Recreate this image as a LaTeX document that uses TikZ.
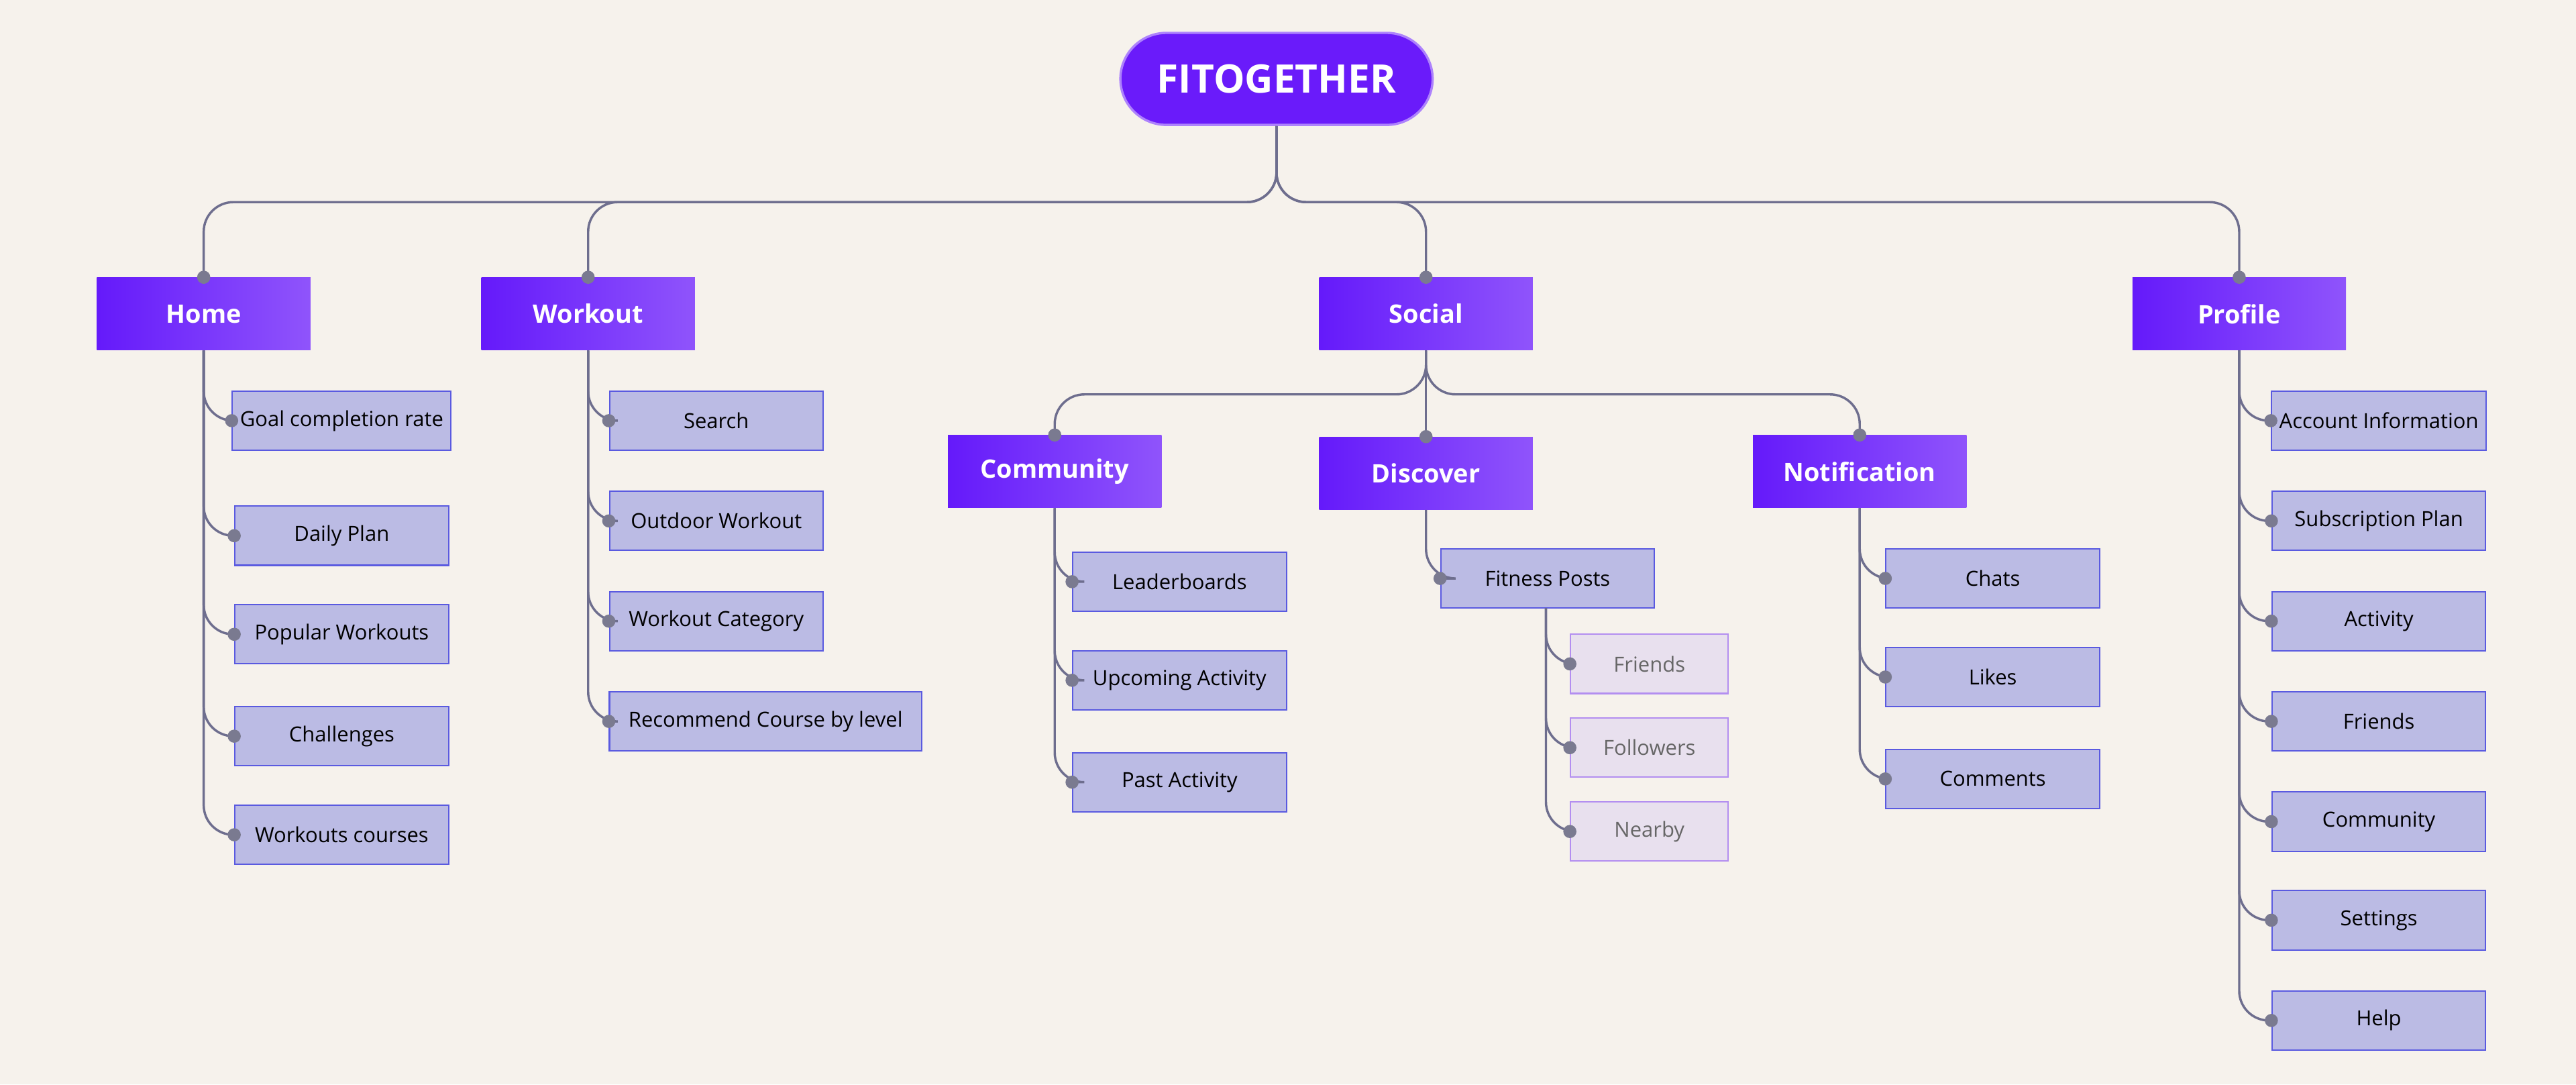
\documentclass[tikz,border=0pt]{standalone}
\usepackage{fontspec}
\setmainfont{Open Sans}
\usepackage{tikz}
\usetikzlibrary{positioning,calc}
\definecolor{bgcol}{HTML}{F6F2EC}
\definecolor{topcol}{HTML}{6A1BFA}
\definecolor{linecol}{HTML}{6E6E8E}
\definecolor{dotcol}{HTML}{7A7A90}
\definecolor{leafcol}{HTML}{BBBBE4}
\definecolor{leafdraw}{HTML}{5A5AE0}
\definecolor{lightcol}{HTML}{E8E0EE}
\definecolor{lightdraw}{HTML}{B38EF0}
\tikzstyle{root} = [rectangle, rounded corners=0.7cm, minimum width=4.75cm, minimum height=1.4cm, fill=topcol, draw=topcol!55, line width=1pt, text=white, font=\fontsize{17}{20}\selectfont\bfseries]
\tikzstyle{main} = [rectangle, minimum width=3.25cm, minimum height=1.1cm, left color=topcol!95!blue, right color=topcol!75!white, draw=none, text=white, font=\fontsize{11}{13}\selectfont\bfseries]
\tikzstyle{leaf} = [rectangle, minimum width=3.25cm, minimum height=0.9cm, fill=leafcol, draw=leafdraw, line width=0.6pt, font=\fontsize{9}{11}\selectfont]
\tikzstyle{light} = [rectangle, minimum width=2.4cm, minimum height=0.9cm, fill=lightcol, draw=lightdraw, line width=0.6pt, text=black!60, font=\fontsize{9}{11}\selectfont]
\tikzstyle{link} = [linecol, line width=1pt, rounded corners=0.45cm]
\tikzstyle{dot} = [circle, fill=dotcol, inner sep=0pt, minimum size=0.2cm]
\begin{document}
\begin{tikzpicture}[x=0.025cm, y=-0.025cm]
	\fill[bgcol] (0,0) rectangle (1568,660);
	\useasboundingbox (0,0) rectangle (1568,660);
	% top levels
	\node (fit) [root] at (777,48) {FITOGETHER};
	\node (home) [main] at (124,191) {Home};
	\node (workout) [main] at (358,191) {Workout};
	\node (social) [main] at (868,191) {Social};
	\node (profile) [main] at (1363,191) {Profile};
	\node (community) [main] at (642,287) {Community};
	\node (discover) [main] at (868,288) {Discover};
	\node (notification) [main] at (1132,287) {Notification};
	\coordinate (bus) at (0,123);
	\coordinate (sbus) at (0,240);
	\foreach \m in {home,workout,social,profile}
		\draw[link] (fit.south) -- (fit.south |- bus) -| (\m.north);
	\foreach \m in {community,discover,notification}
		\draw[link] (social.south) -- (social.south |- sbus) -| (\m.north);
	\foreach \m in {home,workout,social,profile,community,discover,notification}
		\node[dot] at (\m.north) {};
	% leaves
	\foreach \t/\y [count=\i] in {Goal completion rate/256, Daily Plan/326, Popular Workouts/386, Challenges/448, Workouts courses/508}{
		\node (h\i) [leaf] at (208,\y) {\t};
		\draw[link] (home.south) |- (h\i.west);
		\node[dot] at (h\i.west) {};
	}
	\foreach \t/\y [count=\i] in {Search/256, Outdoor Workout/317, Workout Category/378}{
		\node (w\i) [leaf] at (436,\y) {\t};
		\draw[link] (workout.south) |- (w\i.west);
		\node[dot] at (w\i.west) {};
	}
	\node (w4) [leaf, minimum width=4.75cm] at (466,439) {Recommend Course by level};
	\draw[link] (workout.south) |- (w4.west);
	\node[dot] at (w4.west) {};
	\foreach \t/\y [count=\i] in {Leaderboards/354, Upcoming Activity/414, Past Activity/476}{
		\node (c\i) [leaf] at (718,\y) {\t};
		\draw[link] (community.south) |- (c\i.west);
		\node[dot] at (c\i.west) {};
	}
	\node (posts) [leaf] at (942,352) {Fitness Posts};
	\draw[link] (discover.south) |- (posts.west);
	\node[dot] at (posts.west) {};
	\coordinate (pstem) at (941,370);
	\foreach \t/\y [count=\i] in {Friends/404, Followers/455, Nearby/506}{
		\node (p\i) [light] at (1004,\y) {\t};
		\draw[link] (pstem) |- (p\i.west);
		\node[dot] at (p\i.west) {};
	}
	\foreach \t/\y [count=\i] in {Chats/352, Likes/412, Comments/474}{
		\node (n\i) [leaf] at (1213,\y) {\t};
		\draw[link] (notification.south) |- (n\i.west);
		\node[dot] at (n\i.west) {};
	}
	\foreach \t/\y [count=\i] in {Account Information/256, Subscription Plan/317, Activity/378, Friends/439, Community/500, Settings/560, Help/621}{
		\node (r\i) [leaf] at (1448,\y) {\t};
		\draw[link] (profile.south) |- (r\i.west);
		\node[dot] at (r\i.west) {};
	}
\end{tikzpicture}
\end{document}
